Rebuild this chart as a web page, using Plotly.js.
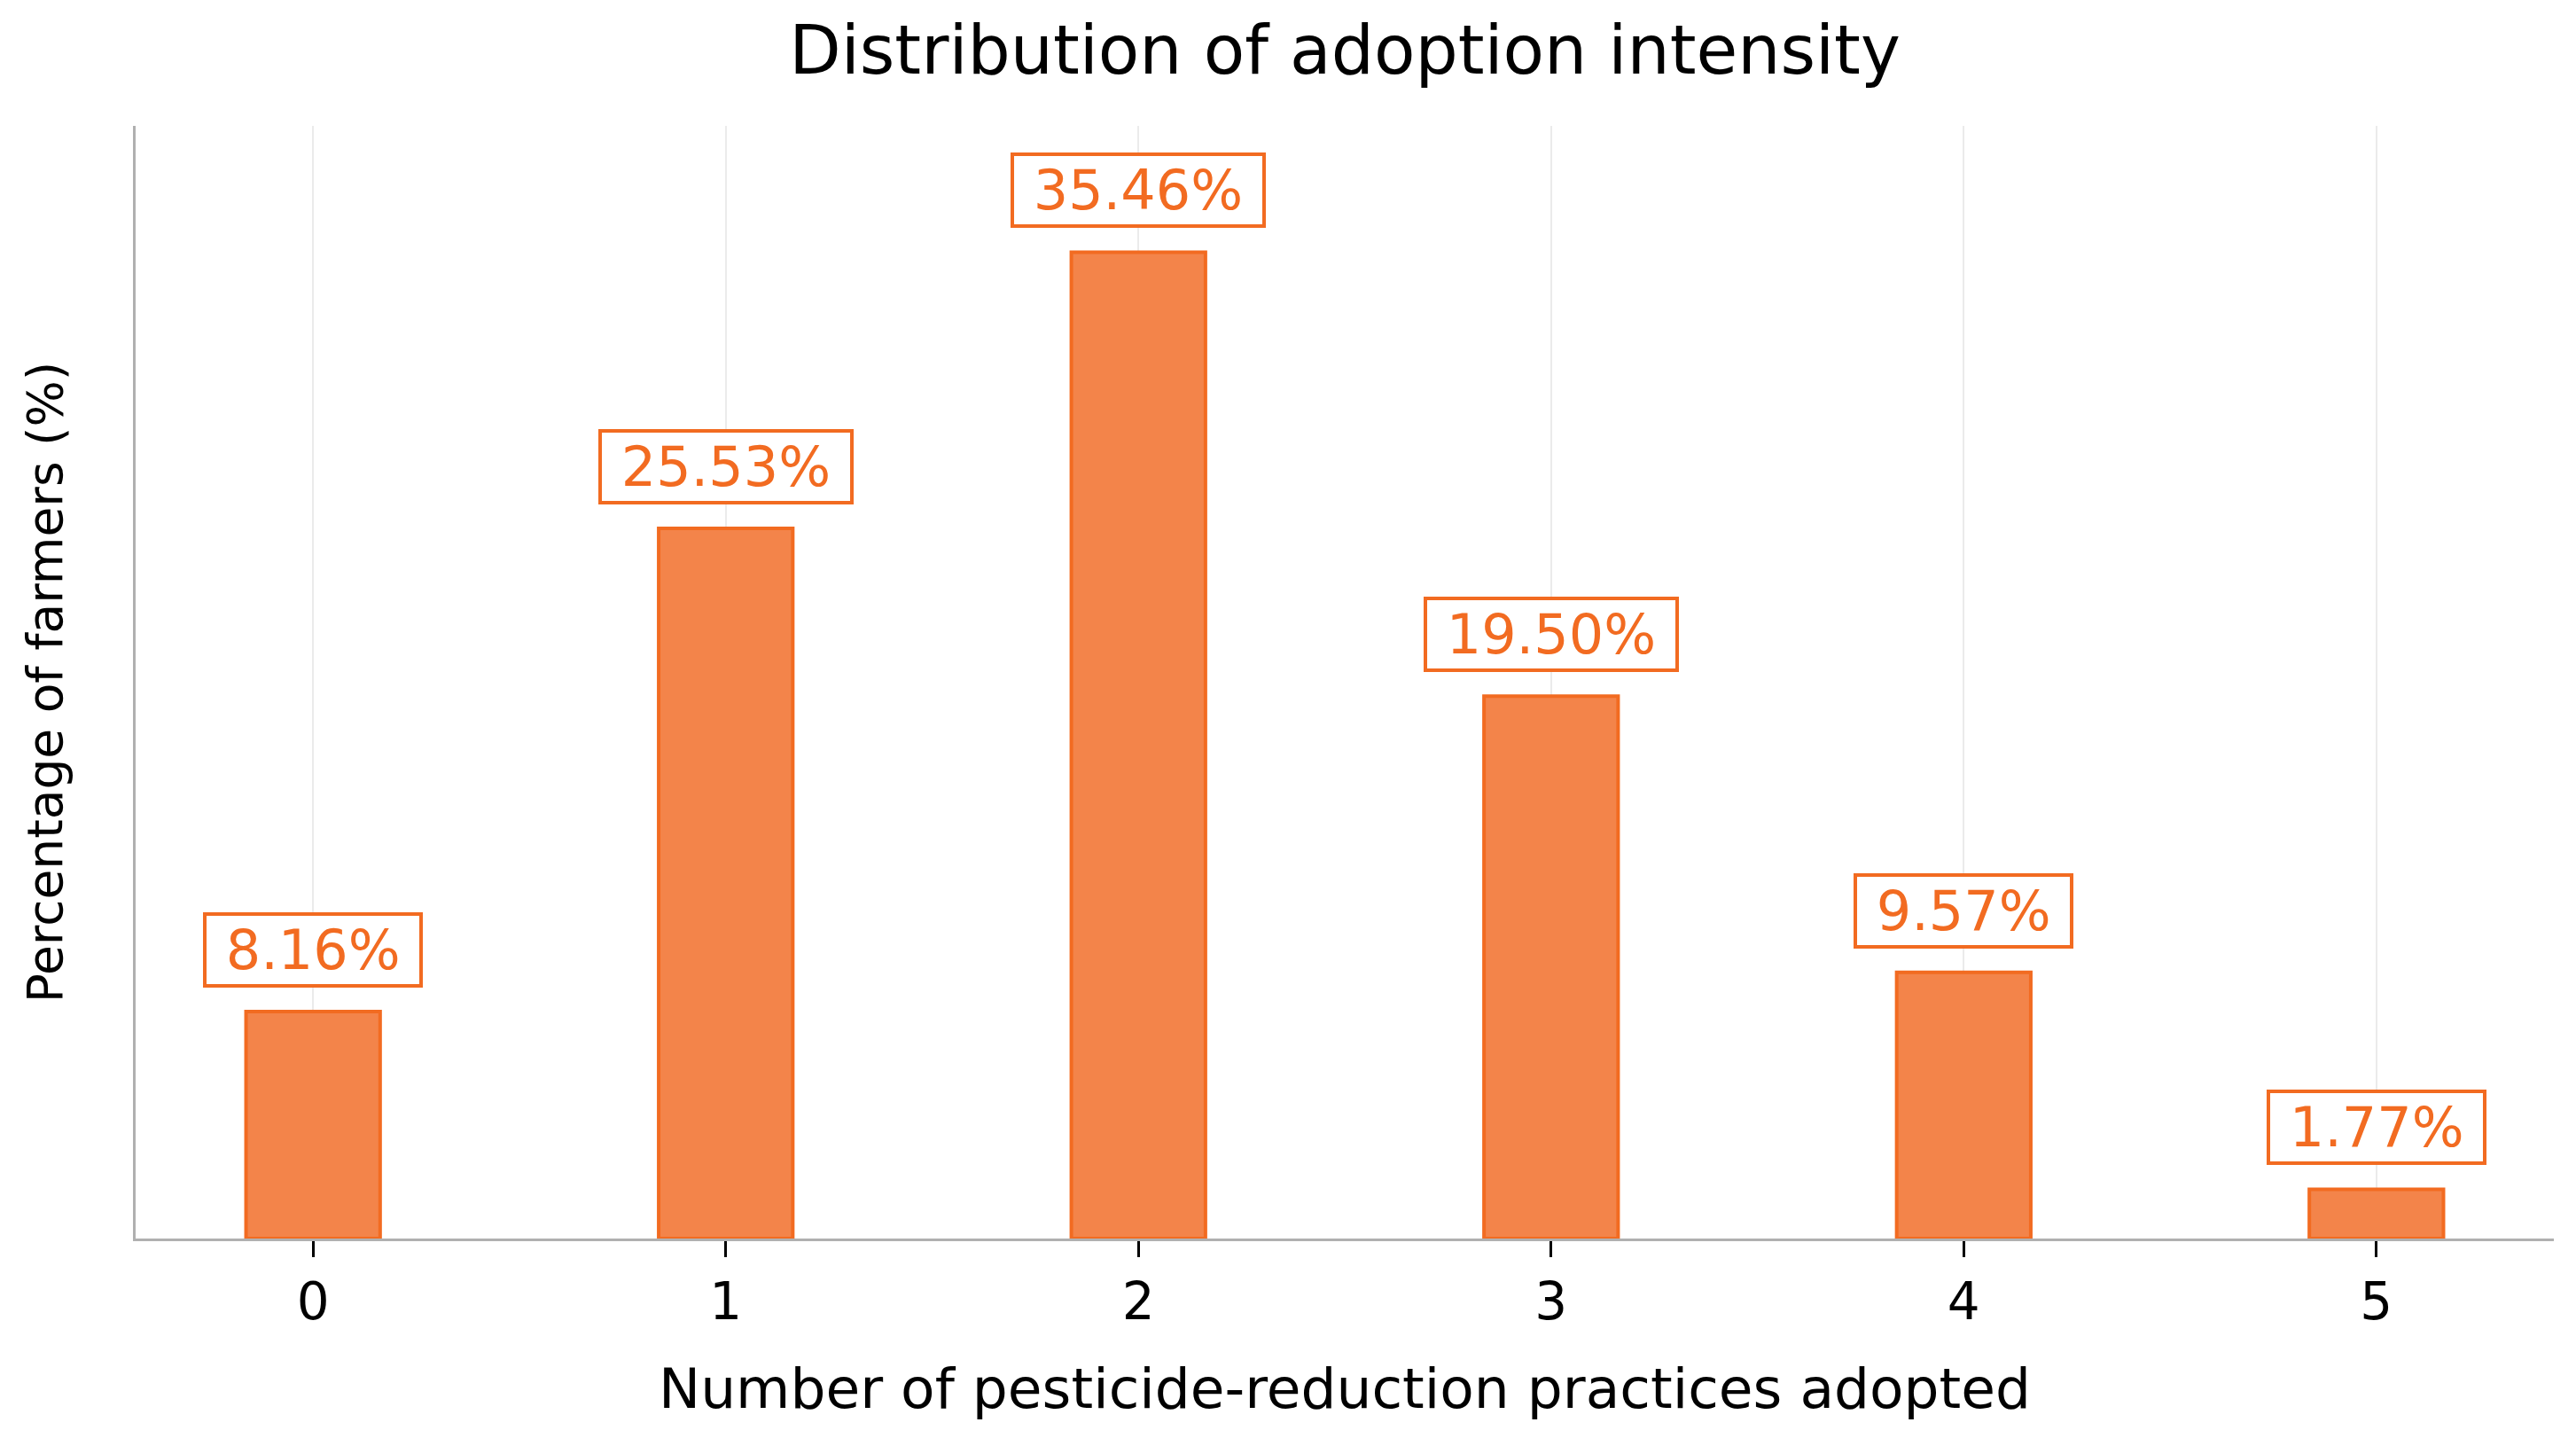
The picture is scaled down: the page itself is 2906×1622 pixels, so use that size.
<!DOCTYPE html>
<html>
<head>
<meta charset="utf-8">
<script src="https://cdn.plot.ly/plotly-3.0.1.min.js"></script>
<style>
  html, body { margin: 0; padding: 0; background: #ffffff; }
  #chart { width: 2906px; height: 1622px; }
</style>
</head>
<body>
<div id="chart"></div>
<script>
// ---- data ----
const categories = [0, 1, 2, 3, 4, 5];
const percentages = [8.16, 25.53, 35.46, 19.50, 9.57, 1.77];
const tickLabels = ['0', '1', '2', '3', '4', '5'];
const chartTitle = 'Distribution of adoption intensity';
const xTitle = 'Number of pesticide-reduction practices adopted';
const yTitle = 'Percentage of farmers (%)';

// ---- style ----
const FONT = 'DejaVu Sans, sans-serif';
const ORANGE_FILL = '#F3844A';
const ORANGE_EDGE = '#F26B21';
const AXIS_GREY = '#b0b0b0';
const GRID_GREY = '#ebebeb';

const trace = {
  type: 'bar',
  x: categories,
  y: percentages,
  width: 0.325,
  marker: { color: ORANGE_FILL, line: { color: ORANGE_EDGE, width: 4 } },
  hoverinfo: 'x+y'
};

const annotations = categories.map((c, i) => ({
  x: c,
  y: percentages[i],
  xref: 'x',
  yref: 'y',
  text: '\u00a0' + percentages[i].toFixed(2) + '%\u00a0',
  showarrow: false,
  xanchor: 'center',
  yanchor: 'bottom',
  yshift: 27,
  font: { family: FONT, size: 62, color: ORANGE_EDGE },
  bgcolor: '#ffffff',
  bordercolor: ORANGE_EDGE,
  borderwidth: 4,
  borderpad: 2
}));

const layout = {
  width: 2906,
  height: 1622,
  paper_bgcolor: '#ffffff',
  plot_bgcolor: '#ffffff',
  margin: { l: 153, r: 25, t: 142, b: 225, pad: 0 },
  showlegend: false,
  font: { family: FONT, color: '#000000' },
  title: {
    text: chartTitle,
    font: { family: FONT, size: 76, color: '#000000' },
    xref: 'paper',
    x: 0.5,
    xanchor: 'center',
    yref: 'container',
    y: 1 - 56 / 1622,
    yanchor: 'middle'
  },
  xaxis: {
    range: [-0.43, 5.43],
    tickmode: 'array',
    tickvals: categories,
    ticktext: tickLabels,
    ticks: 'outside',
    ticklen: 18,
    tickwidth: 3,
    tickcolor: '#000000',
    tickfont: { family: FONT, size: 58, color: '#000000' },
    showline: true,
    linecolor: AXIS_GREY,
    linewidth: 3,
    showgrid: true,
    gridcolor: GRID_GREY,
    gridwidth: 2,
    zeroline: false,
    title: {
      text: xTitle,
      font: { family: FONT, size: 63, color: '#000000' },
      standoff: 44
    },
    automargin: false,
    fixedrange: true
  },
  yaxis: {
    range: [0, 40],
    showticklabels: false,
    ticks: '',
    showgrid: false,
    zeroline: false,
    showline: true,
    linecolor: AXIS_GREY,
    linewidth: 3,
    title: {
      text: yTitle,
      font: { family: FONT, size: 55, color: '#000000' },
      standoff: 62
    },
    automargin: false,
    fixedrange: true
  },
  annotations: annotations,
  bargap: 0
};

Plotly.newPlot('chart', [trace], layout, { displayModeBar: false, staticPlot: true });
</script>
</body>
</html>
